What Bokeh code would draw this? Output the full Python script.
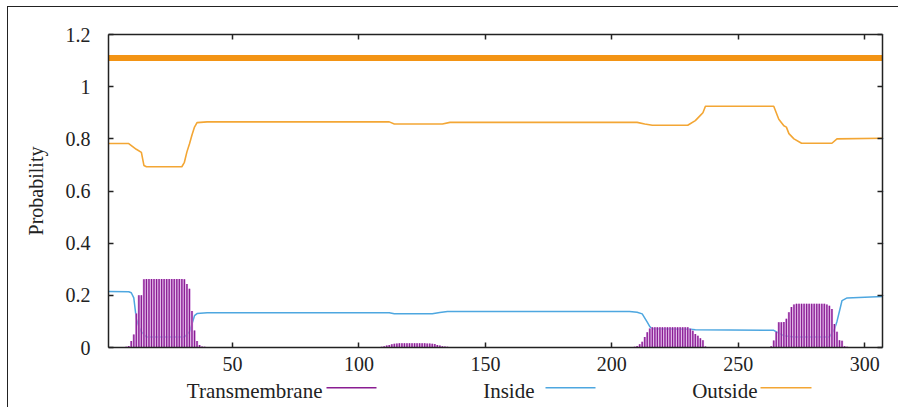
from bokeh.plotting import figure
from bokeh.models import Range1d, LinearAxis, FixedTicker, CustomJSTickFormatter, InlineStyleSheet
from bokeh.layouts import column
from bokeh.embed import file_html
from bokeh.resources import INLINE
from bokeh.core.properties import value

# ---------------- data ----------------
# transmembrane posterior probability per residue (impulses); residues not listed are ~0
tm_res = [8, 9, 10, 11, 12, 13, 14, 15, 16, 17, 18, 19, 20, 21, 22, 23, 24, 25,
          26, 27, 28, 29, 30, 31, 32, 33, 34, 35, 36, 37, 38, 39, 40, 41,
          57, 59, 61, 63, 65, 67, 69, 71, 73, 75, 77, 79,
          109, 110, 111, 112, 113, 114, 115, 116, 117, 118, 119, 120, 121, 122,
          123, 124, 125, 126, 127, 128, 129, 130, 131, 132, 133, 134, 135, 136,
          137, 138, 139, 140,
          159, 162, 165, 168, 171, 174, 177, 182, 185, 188, 191, 194, 197, 200,
          209, 210, 211, 212, 213, 214, 215, 216, 217, 218, 219, 220, 221, 222,
          223, 224, 225, 226, 227, 228, 229, 230, 231, 232, 233, 234, 235, 236,
          237, 238,
          258, 260, 262, 263, 264, 265, 266, 267, 268, 269, 270, 271, 272, 273,
          274, 275, 276, 277, 278, 279, 280, 281, 282, 283, 284, 285, 286, 287,
          288, 289, 290, 291, 292, 293, 294, 295]
tm_val = [0.003, 0.006, 0.025, 0.05, 0.13, 0.2, 0.2, 0.262, 0.263, 0.263, 0.263,
          0.263, 0.263, 0.263, 0.263, 0.263, 0.263, 0.263, 0.263, 0.263, 0.263,
          0.263, 0.263, 0.262, 0.243, 0.225, 0.14, 0.065, 0.025, 0.01, 0.004,
          0.003, 0.002, 0.002,
          0.002, 0.002, 0.002, 0.002, 0.002, 0.002, 0.002, 0.002, 0.002, 0.002,
          0.002, 0.002,
          0.003, 0.005, 0.008, 0.01, 0.012, 0.014, 0.015, 0.016, 0.016, 0.016,
          0.016, 0.016, 0.016, 0.016, 0.016, 0.016, 0.016, 0.016, 0.015, 0.015,
          0.014, 0.013, 0.01, 0.008, 0.005, 0.004, 0.003, 0.002, 0.002, 0.002,
          0.002, 0.002,
          0.002, 0.002, 0.002, 0.002, 0.002, 0.002, 0.002, 0.002, 0.002, 0.002,
          0.002, 0.002, 0.002, 0.002,
          0.003, 0.006, 0.012, 0.022, 0.04, 0.058, 0.073, 0.078, 0.078, 0.078,
          0.078, 0.078, 0.078, 0.078, 0.078, 0.078, 0.078, 0.078, 0.078, 0.078,
          0.078, 0.078, 0.072, 0.064, 0.052, 0.045, 0.035, 0.028, 0.004, 0.002,
          0.002, 0.002, 0.002, 0.005, 0.027, 0.06, 0.097, 0.097, 0.098, 0.11,
          0.135, 0.155, 0.165, 0.168, 0.168, 0.168, 0.168, 0.168, 0.168, 0.168,
          0.168, 0.168, 0.168, 0.168, 0.168, 0.165, 0.16, 0.148, 0.09, 0.06,
          0.028, 0.026, 0.005, 0.003, 0.002]

# inside probability (breakpoints of the curve)
in_res = [1, 9, 10, 11, 12, 13, 14, 16, 31, 33, 34, 35, 36, 40, 112, 114, 129,
          132, 135, 207, 210, 212, 214, 215, 216, 231, 233, 264, 266, 268, 272,
          286, 288, 289, 290, 291, 293, 307]
in_val = [0.215, 0.214, 0.21, 0.19, 0.11, 0.08, 0.06, 0.04, 0.04, 0.06, 0.09,
          0.122, 0.13, 0.133, 0.133, 0.129, 0.129, 0.134, 0.138, 0.138, 0.135,
          0.129, 0.097, 0.08, 0.072, 0.07, 0.068, 0.066, 0.055, 0.045, 0.04,
          0.04, 0.07, 0.1, 0.14, 0.18, 0.19, 0.196]

# outside probability (breakpoints of the curve)
out_res = [1, 9, 12, 14, 15, 16, 30, 31, 32, 33, 34, 35, 36, 40, 112, 114, 133,
           136, 210, 213, 216, 230, 233, 235, 236, 237, 264, 266, 268, 269, 270,
           272, 275, 287, 289, 307]
out_val = [0.782, 0.782, 0.76, 0.748, 0.698, 0.693, 0.693, 0.71, 0.75, 0.78,
           0.815, 0.845, 0.862, 0.865, 0.865, 0.857, 0.857, 0.863, 0.863, 0.857,
           0.852, 0.852, 0.87, 0.89, 0.9, 0.925, 0.925, 0.875, 0.85, 0.845, 0.82,
           0.8, 0.783, 0.783, 0.8, 0.802]

# predicted topology segment (drawn as the thick bar above the curves)
topo_start = [1]
topo_end = [307]

x_ticks = [50, 100, 150, 200, 250, 300]
y_ticks = [0, 0.2, 0.4, 0.6, 0.8, 1.0, 1.2]
legend_labels = ["Transmembrane", "Inside", "Outside"]

# ---------------- styling ----------------
C_TM_DARK = "#8a1d92"
C_TM_LIGHT = "#d095dc"
C_IN = "#4ea7e0"
C_OUT = "#f3a634"
C_TOPO = "#f39414"
INK = "#222222"
FONT = "Liberation Serif"
serif_css = InlineStyleSheet(css="text { font-family: 'Liberation Serif', serif !important; }")

W = 890
p = figure(width=W, height=373, x_range=Range1d(1, 307), y_range=Range1d(0, 1.2),
           output_backend="svg", toolbar_location=None,
           min_border_left=100, min_border_right=16, min_border_top=27,
           min_border_bottom=33, stylesheets=[serif_css])
p.xgrid.visible = False
p.ygrid.visible = False
p.outline_line_color = None

p.add_layout(LinearAxis(), "above")
p.add_layout(LinearAxis(), "right")

fmt = CustomJSTickFormatter(code="return String(Math.round(tick*10)/10);")

def style_axis(ax, ticks, labels):
    ax.ticker = FixedTicker(ticks=ticks)
    ax.major_tick_in = 5
    ax.major_tick_out = 0
    ax.minor_tick_line_color = None
    ax.axis_line_color = INK
    ax.axis_line_width = 1.5
    ax.major_tick_line_color = INK
    ax.major_tick_line_width = 1.5
    ax.major_label_text_font = FONT
    ax.major_label_text_font_size = "20px"
    ax.major_label_text_color = INK
    if not labels:
        ax.major_label_text_font_size = "1px"
        ax.major_label_standoff = 0

for ax in p.below:
    style_axis(ax, x_ticks, True)
    ax.major_label_standoff = 9
for ax in p.above:
    style_axis(ax, x_ticks, False)
for ax in p.left:
    style_axis(ax, y_ticks, True)
    ax.formatter = fmt
    ax.major_label_standoff = 18
    ax.axis_label = "Probability"
    ax.axis_label_text_font = FONT
    ax.axis_label_text_font_style = "normal"
    ax.axis_label_text_font_size = "20px"
    ax.axis_label_text_color = INK
    ax.axis_label_standoff = 16
for ax in p.right:
    style_axis(ax, y_ticks, False)

# inside curve (under the impulses, as in the reference)
p.line(in_res, in_val, line_color=C_IN, line_width=1.5)
# transmembrane impulses
p.vbar(x=tm_res, top=tm_val, bottom=0, width=0.9, fill_color=C_TM_LIGHT,
       line_color=None)
p.segment(x0=tm_res, y0=[0] * len(tm_res), x1=tm_res, y1=tm_val,
          line_color=C_TM_DARK, line_width=1.2)
# outside curve
p.line(out_res, out_val, line_color=C_OUT, line_width=1.6)
# topology bar
p.segment(x0=topo_start, y0=[1.11] * len(topo_start), x1=topo_end,
          y1=[1.11] * len(topo_start), line_color=C_TOPO, line_width=6)

# ---------------- legend strip (frame is aligned with the main frame) ----------------
leg = figure(width=W, height=27, x_range=Range1d(108, 882), y_range=Range1d(27, 0),
             output_backend="svg", toolbar_location=None,
             x_axis_location=None, y_axis_location=None,
             min_border_left=0, min_border_right=0, min_border_top=0,
             min_border_bottom=0, stylesheets=[serif_css])
leg.xgrid.visible = False
leg.ygrid.visible = False
leg.outline_line_color = None

text_right = [322, 534, 757]
line_x0 = [326, 545, 760]
line_x1 = [376, 595, 811]
leg.text(x=text_right, y=[10, 10, 10], text=legend_labels,
         text_font=value(FONT), text_font_size="21px", text_color=INK,
         text_align="right", text_baseline="middle")
leg.segment(x0=line_x0, y0=[7.3] * 3, x1=line_x1, y1=[7.3] * 3,
            line_color=[C_TM_DARK, C_IN, C_OUT], line_width=1.5)

layout = column(p, leg, margin=(6, 0, 0, 7),
                styles={"border": "1px solid #222222"})

open("out.html", "w").write(file_html(layout, INLINE))
